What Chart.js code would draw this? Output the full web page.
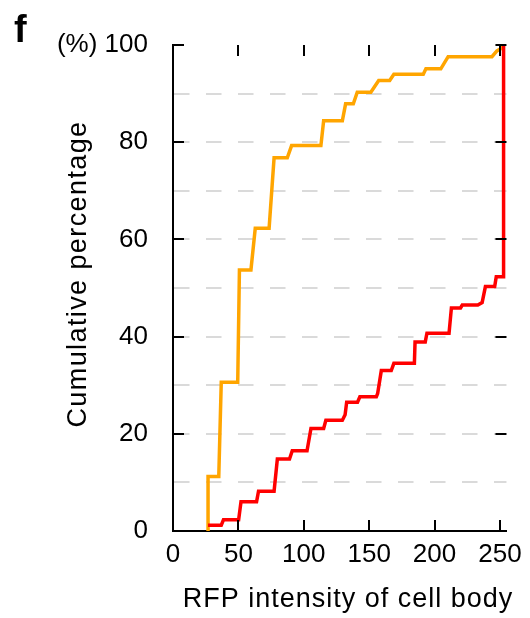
<!DOCTYPE html>
<html>
<head>
    <meta charset="utf-8">
    <script src="https://cdn.jsdelivr.net/npm/chart.js@4.4.1/dist/chart.umd.min.js"></script>
    <style>
        body { margin: 0; background: #fff; }
        #wrap { width: 530px; height: 618px; }
    </style>
</head>
<body>
    <div id="wrap"><canvas id="cdfChart" width="530" height="618"></canvas></div>

    <script>
        // values (cumulative %, RFP intensity)
        const orangeX = [26.8, 26.8, 35.0, 36.9, 49.5, 50.8, 59.6, 62.9, 73.5, 77.3, 87.4, 90.7, 113.1, 115.2, 129.5, 132.0,
            137.9, 140.9, 151.3, 157.3, 165.7, 168.9, 191.4, 193.4, 204.8, 210.4, 243.9, 247.7, 250.5, 252.8];
        const orangeY = [0, 11.2, 11.2, 30.6, 30.6, 53.7, 53.7, 62.3, 62.3, 76.8, 76.8, 79.3, 79.3, 84.4, 84.4, 87.9,
            87.9, 90.3, 90.3, 92.7, 92.7, 94.0, 94.0, 95.1, 95.1, 97.6, 97.6, 98.8, 99.2, 100];

        const redX = [26.8, 36.9, 38.6, 50.2, 52.0, 63.9, 65.4, 77.3, 79.8, 89.1, 91.2, 102.5, 105.5, 115.2, 116.9, 129.5,
            131.6, 132.8, 141.1, 142.9, 155.5, 156.5, 159.3, 166.9, 168.9, 184.6, 185.1, 192.9, 194.2, 211.1, 212.9,
            219.9, 221.2, 233.1, 236.4, 238.9, 246.0, 247.2, 252.8, 252.8];
        const redY = [1.2, 1.2, 2.3, 2.3, 6.0, 6.0, 8.2, 8.2, 14.8, 14.8, 16.5, 16.5, 21.1, 21.1, 22.8, 22.8,
            23.9, 26.5, 26.5, 27.6, 27.6, 28.3, 33.0, 33.0, 34.5, 34.5, 38.9, 38.9, 40.7, 40.7, 45.9,
            45.9, 46.5, 46.5, 47.0, 50.3, 50.3, 52.3, 52.3, 100];

        const xTicks = [0, 50, 100, 150, 200, 250];
        const yTicks = [0, 10, 20, 30, 40, 50, 60, 70, 80, 90, 100];
        const yLabelled = [0, 20, 40, 60, 80, 100];

        const FONT = '"Liberation Sans", Arial, Helvetica, sans-serif';

        function toPoints(xs, ys) {
            return xs.map((x, i) => ({ x: x, y: ys[i] }));
        }

        // inner tick marks, axis titles and panel letter
        const decorPlugin = {
            id: 'decor',
            afterDraw(chart) {
                const ctx = chart.ctx;
                const xs = chart.scales.x, ys = chart.scales.y;
                const a = chart.chartArea;
                const len = 11;
                ctx.save();
                ctx.strokeStyle = '#000';
                ctx.lineWidth = 2;
                ctx.beginPath();
                xTicks.slice(1).forEach(v => {
                    const px = Math.round(xs.getPixelForValue(v));
                    ctx.moveTo(px, a.top); ctx.lineTo(px, a.top + len);
                    ctx.moveTo(px, a.bottom); ctx.lineTo(px, a.bottom - len);
                });
                yLabelled.slice(1).forEach(v => {
                    const py = Math.round(ys.getPixelForValue(v));
                    ctx.moveTo(a.left, py); ctx.lineTo(a.left + len, py);
                    ctx.moveTo(a.right, py); ctx.lineTo(a.right - len, py);
                });
                ctx.stroke();

                ctx.fillStyle = '#000';
                ctx.font = '27px ' + FONT;
                ctx.textAlign = 'center';
                ctx.textBaseline = 'alphabetic';
                ctx.letterSpacing = '1px';
                ctx.fillText('RFP intensity of cell body', 348, 607);

                ctx.save();
                ctx.letterSpacing = '1.4px';
                ctx.translate(86, 274);
                ctx.rotate(-Math.PI / 2);
                ctx.fillText('Cumulative percentage', 0, 0);
                ctx.restore();

                ctx.letterSpacing = '0px';
                ctx.textAlign = 'left';
                ctx.font = 'bold 38px ' + FONT;
                ctx.fillText('f', 14, 42);
                ctx.restore();
            }
        };

        const ctx = document.getElementById('cdfChart').getContext('2d');

        const cdfChart = new Chart(ctx, {
            type: 'line',
            data: {
                datasets: [
                    {
                        label: 'red',
                        data: toPoints(redX, redY),
                        borderColor: '#ff0000',
                        borderWidth: 3.5,
                        pointRadius: 0,
                        tension: 0,
                        fill: false
                    },
                    {
                        label: 'orange',
                        data: toPoints(orangeX, orangeY),
                        borderColor: '#ffa500',
                        borderWidth: 3.5,
                        pointRadius: 0,
                        tension: 0,
                        fill: false
                    }
                ]
            },
            options: {
                responsive: false,
                animation: false,
                layout: { padding: { left: 0, top: 45, right: 20, bottom: 0 } },
                plugins: {
                    legend: { display: false },
                    tooltip: { enabled: false }
                },
                scales: {
                    x: {
                        type: 'linear',
                        min: 0,
                        max: 255,
                        afterBuildTicks: s => { s.ticks = xTicks.map(v => ({ value: v })); },
                        afterFit: s => { s.height = 87; },
                        grid: { display: false, drawTicks: false },
                        border: { display: true, color: '#000', width: 2 },
                        ticks: {
                            padding: 8,
                            color: '#000',
                            maxRotation: 0,
                            autoSkip: false,
                            font: { family: FONT, size: 26 }
                        }
                    },
                    y: {
                        type: 'linear',
                        min: 0,
                        max: 100,
                        afterBuildTicks: s => { s.ticks = yTicks.map(v => ({ value: v })); },
                        afterFit: s => { s.width = 173; },
                        grid: {
                            drawTicks: false,
                            lineWidth: 2,
                            color: c => (c.tick && c.tick.value > 0 && c.tick.value < 100) ? '#dadada' : 'rgba(0,0,0,0)'
                        },
                        border: { display: true, color: '#000', width: 2, dash: [15.5, 16.5] },
                        ticks: {
                            padding: 25,
                            color: '#000',
                            autoSkip: false,
                            font: { family: FONT, size: 26 },
                            callback: v => yLabelled.includes(v) ? (v === 100 ? '(%) 100' : String(v)) : ''
                        }
                    }
                }
            },
            plugins: [decorPlugin]
        });
    </script>
</body>
</html>
